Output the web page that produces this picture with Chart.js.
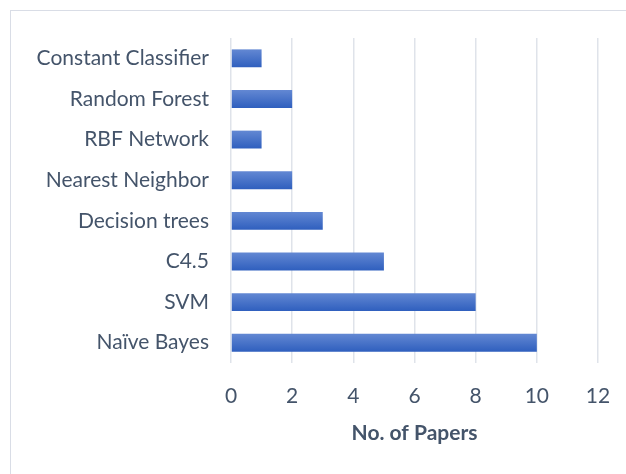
<!DOCTYPE html>
<html lang="en">
<head>
    <meta charset="UTF-8">
    <title>No. of Papers by Classifier</title>
    <script src="https://cdn.jsdelivr.net/npm/chart.js"></script>
    <style>
        html, body {
            margin: 0;
            padding: 0;
            background: #fff;
            overflow: hidden;
        }
        .frame {
            position: absolute;
            left: 10px;
            top: 10px;
            width: 700px;
            height: 600px;
            border: 1px solid #d9dde6;
        }
        #chart-container {
            position: absolute;
            left: 0;
            top: 0;
            width: 626px;
            height: 474px;
        }
    </style>
</head>
<body>
    <div class="frame"></div>
    <div id="chart-container">
        <canvas id="papersChart" width="626" height="474"></canvas>
    </div>

    <script>
        // categories top to bottom, as in the picture
        const classifiers = ['Constant Classifier', 'Random Forest', 'RBF Network', 'Nearest Neighbor',
            'Decision trees', 'C4.5', 'SVM', 'Naïve Bayes'];
        const paperCounts = [1, 2, 1, 2, 3, 5, 8, 10];
        const xTicks = [0, 2, 4, 6, 8, 10, 12];

        const textColor = '#44546a';
        const fontFamily = 'Lato, "Open Sans", sans-serif';

        function barGradient(ctx) {
            const chart = ctx.chart;
            const yScale = chart.scales.y;
            if (!chart.chartArea || !yScale || ctx.dataIndex === undefined) return '#4472c4';
            const c = yScale.getPixelForValue(ctx.dataIndex);
            const g = chart.ctx.createLinearGradient(0, c - 9, 0, c + 9);
            g.addColorStop(0, '#6388d3');
            g.addColorStop(1, '#2f5fbe');
            return g;
        }

        new Chart(document.getElementById('papersChart'), {
            type: 'bar',
            data: {
                labels: classifiers,
                datasets: [{
                    label: 'No. of Papers',
                    data: paperCounts,
                    backgroundColor: barGradient,
                    borderWidth: 0,
                    categoryPercentage: 1,
                    barPercentage: 0.44
                }]
            },
            options: {
                indexAxis: 'y',
                responsive: false,
                animation: false,
                layout: { padding: { top: 38, right: 28, bottom: 24, left: 0 } },
                plugins: {
                    legend: { display: false },
                    tooltip: { enabled: false }
                },
                scales: {
                    x: {
                        min: 0,
                        max: 12,
                        afterBuildTicks: (scale) => { scale.ticks = xTicks.map(v => ({ value: v })); },
                        afterFit: (scale) => {
                            scale.height = 87;
                            scale.paddingLeft = 0;
                            scale.paddingRight = 0;
                        },
                        grid: { color: '#dfe3ea', lineWidth: 1.5, drawTicks: false },
                        border: { display: false },
                        ticks: { color: textColor, font: { family: fontFamily, size: 21 }, padding: 21 },
                        title: {
                            display: true,
                            text: 'No. of Papers',
                            color: textColor,
                            font: { family: fontFamily, size: 21, weight: 'bold' },
                            padding: { top: 12 }
                        }
                    },
                    y: {
                        afterFit: (scale) => { scale.width = 231; },
                        grid: { display: false },
                        border: { display: false },
                        ticks: { color: textColor, font: { family: fontFamily, size: 21 }, padding: 14 }
                    }
                }
            }
        });
    </script>
</body>
</html>
